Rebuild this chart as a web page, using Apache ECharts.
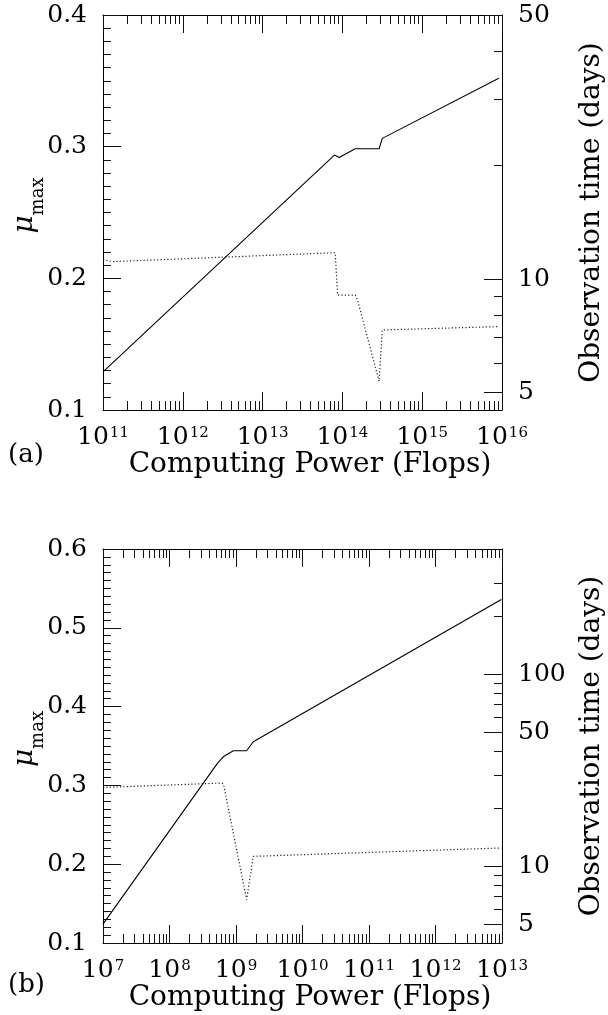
<!DOCTYPE html>
<html><head><meta charset="utf-8">
<script src="https://cdn.jsdelivr.net/npm/echarts@6/dist/echarts.min.js"></script>
<style>html,body{margin:0;padding:0;background:#fff}#c{width:608px;height:1015px}</style>
</head><body><div id="c"></div>
<script>
const FONT = 'DejaVu Serif';

// ---------- Panel (a) data ----------
const aSolidLogFlops = [11.00, 13.90, 13.96, 14.16, 14.46, 14.50, 15.96];
const aSolidMu       = [0.129, 0.2936, 0.2918, 0.2984, 0.2984, 0.3063, 0.3519];
const aDotLogFlops   = [11.00, 11.12, 13.91, 13.94, 14.16, 14.19, 14.46, 14.50, 15.94];
const aDotDays       = [11.26, 11.12, 11.74, 9.07, 9.07, 8.80, 5.36, 7.33, 7.48];
const aXRange = [11, 16];
const aMuRange = [0.1, 0.4];
const aDaysRange = [4.5, 50];
const aDaysMajor = [5, 10, 50];
const aDaysMinor = [6, 7, 8, 9, 20, 30, 40];

// ---------- Panel (b) data ----------
const bSolidLogFlops = [7.00, 8.72, 8.82, 8.96, 9.16, 9.26, 12.99];
const bSolidMu       = [0.124, 0.328, 0.337, 0.344, 0.344, 0.3554, 0.536];
const bDotLogFlops   = [7.00, 8.76, 8.81, 9.16, 9.26, 12.99];
const bDotDays       = [25.8, 27.2, 27.0, 6.73, 11.3, 12.5];
const bXRange = [7, 13];
const bMuRange = [0.1, 0.6];
const bDaysRange = [4, 450];
const bDaysMajor = [5, 10, 50, 100];
const bDaysMinor = [6, 7, 8, 9, 20, 30, 40, 60, 70, 80, 90, 200, 300];

const xTitle = 'Computing Power (Flops)';
const yRightTitle = 'Observation time (days)';
const panelLabels = ['(a)', '(b)'];

// ---------- helpers ----------
const lineCol = '#000';
function decadeMinors(lo, hi) {
  const out = [];
  for (let n = lo; n < hi; n++) for (let k = 2; k <= 9; k++) out.push(n + Math.log10(k));
  return out;
}
function xAxes(grid, range) {
  const base = {
    type: 'value', gridIndex: grid, min: range[0], max: range[1],
    splitLine: { show: false },
    axisLine: { show: true, onZero: false, lineStyle: { color: lineCol, width: 1 } }
  };
  const minors = decadeMinors(range[0], range[1]);
  const tickStyle = { color: '#111', width: 1 };
  return [
    Object.assign({}, base, {
      position: 'bottom', interval: 1,
      axisTick: { inside: true, length: 18, lineStyle: tickStyle },
      axisLabel: {
        margin: 13, color: '#000',
        formatter: v => '{b|10}{s|' + Math.round(v) + '}',
        rich: {
          b: { fontFamily: FONT, fontSize: 25, lineHeight: 28, color: '#000' },
          s: { fontFamily: FONT, fontSize: 15, lineHeight: 15, verticalAlign: 'top', padding: [3, 0, 0, 1], color: '#000' }
        }
      },
      name: xTitle, nameLocation: 'middle', nameGap: 41, nameMoveOverlap: false,
      nameTextStyle: { fontFamily: FONT, fontSize: 28, color: '#000', padding: [0, 0, 0, 15] }
    }),
    Object.assign({}, base, {
      position: 'bottom', axisLine: { show: false, onZero: false },
      axisTick: { inside: true, length: 9, customValues: minors, lineStyle: tickStyle },
      axisLabel: { show: false }
    }),
    Object.assign({}, base, {
      position: 'top', interval: 1,
      axisTick: { inside: true, length: 18, lineStyle: tickStyle },
      axisLabel: { show: false }
    }),
    Object.assign({}, base, {
      position: 'top', axisLine: { show: false, onZero: false },
      axisTick: { inside: true, length: 9, customValues: minors, lineStyle: tickStyle },
      axisLabel: { show: false }
    })
  ];
}
function yAxes(grid, muRange, daysRange, major, minor) {
  const tickStyle = { color: '#111', width: 1 };
  const lo = Math.log10(daysRange[0]), hi = Math.log10(daysRange[1]);
  const rbase = {
    type: 'value', gridIndex: grid, position: 'right', min: lo, max: hi,
    splitLine: { show: false },
    axisLine: { show: true, onZero: false, lineStyle: { color: lineCol, width: 1 } }
  };
  return [
    {
      type: 'value', gridIndex: grid, position: 'left', min: muRange[0], max: muRange[1], interval: 0.1,
      splitLine: { show: false },
      axisLine: { show: true, onZero: false, lineStyle: { color: lineCol, width: 1 } },
      axisTick: { inside: true, length: 18, lineStyle: tickStyle },
      minorTick: { show: true, splitNumber: 10, length: 8, lineStyle: tickStyle },
      axisLabel: { margin: 16, fontFamily: FONT, fontSize: 25, color: '#000', formatter: v => v.toFixed(1) },
      name: '{mu|μ}{sub|max}', nameLocation: 'middle', nameRotate: 90, nameGap: 62, nameMoveOverlap: false,
      nameTextStyle: {
        padding: [0, 0, 0, 14],
        rich: {
          mu: { fontFamily: FONT, fontSize: 28, fontStyle: 'italic', lineHeight: 30, verticalAlign: 'top', color: '#000' },
          sub: { fontFamily: FONT, fontSize: 18, lineHeight: 18, padding: [18, 0, 0, 0], verticalAlign: 'top', color: '#000' }
        }
      }
    },
    Object.assign({}, rbase, {
      axisTick: { inside: true, length: 18, customValues: major.map(Math.log10), lineStyle: tickStyle },
      axisLabel: {
        margin: 16, fontFamily: FONT, fontSize: 25, color: '#000',
        customValues: major.map(Math.log10),
        formatter: v => String(Math.round(Math.pow(10, v)))
      },
      name: yRightTitle, nameLocation: 'middle', nameRotate: 90, nameGap: 76, nameMoveOverlap: false,
      nameTextStyle: { fontFamily: FONT, fontSize: 28, color: '#000' }
    }),
    Object.assign({}, rbase, {
      axisLine: { show: false, onZero: false },
      axisTick: { inside: true, length: 8, customValues: minor.map(Math.log10), lineStyle: tickStyle },
      axisLabel: { show: false }
    })
  ];
}
const zip = (xs, ys) => xs.map((x, i) => [x, ys[i]]);
function solid(xi, yi, xs, ys) {
  return { type: 'line', xAxisIndex: xi, yAxisIndex: yi, data: zip(xs, ys), symbol: 'none', silent: true,
    lineStyle: { color: '#000', width: 1.1 } };
}
function dotted(xi, yi, xs, days) {
  return { type: 'line', xAxisIndex: xi, yAxisIndex: yi, data: zip(xs, days.map(Math.log10)), symbol: 'none', silent: true,
    lineStyle: { color: '#222', width: 1.2, type: [1.2, 2.2] } };
}

const chart = echarts.init(document.getElementById('c'), null, { renderer: 'canvas' });
chart.setOption({
  animation: false,
  backgroundColor: '#fff',
  grid: [
    { left: 103, top: 15, width: 399, height: 395, containLabel: false, outerBoundsMode: 'none' },
    { left: 103, top: 549, width: 399, height: 394, containLabel: false, outerBoundsMode: 'none' }
  ],
  xAxis: [].concat(xAxes(0, aXRange), xAxes(1, bXRange)),
  yAxis: [].concat(
    yAxes(0, aMuRange, aDaysRange, aDaysMajor, aDaysMinor),
    yAxes(1, bMuRange, bDaysRange, bDaysMajor, bDaysMinor)
  ),
  graphic: [
    { type: 'text', x: 8, y: 455, style: { text: panelLabels[0], font: '26px "DejaVu Serif"', fill: '#000', verticalAlign: 'middle' } },
    { type: 'text', x: 8, y: 985, style: { text: panelLabels[1], font: '26px "DejaVu Serif"', fill: '#000', verticalAlign: 'middle' } }
  ],
  series: [
    solid(0, 0, aSolidLogFlops, aSolidMu),
    dotted(0, 1, aDotLogFlops, aDotDays),
    solid(4, 3, bSolidLogFlops, bSolidMu),
    dotted(4, 4, bDotLogFlops, bDotDays)
  ]
});
</script></body></html>
